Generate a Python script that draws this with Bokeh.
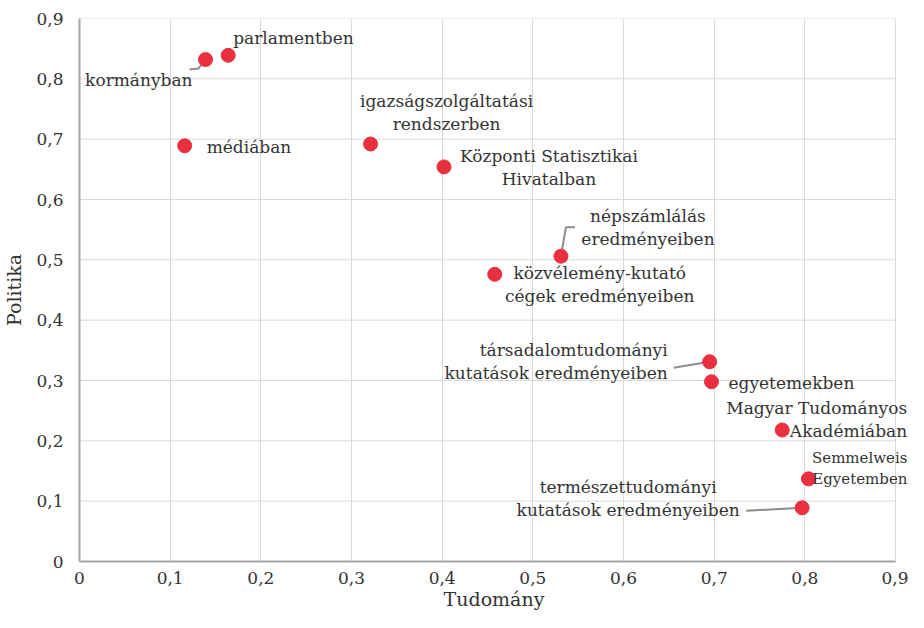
from bokeh.plotting import figure
from bokeh.models import Range1d, FixedTicker, CustomJSTickFormatter, Label, ColumnDataSource
from bokeh.embed import file_html
from bokeh.resources import INLINE

# ---- data ----
labels = [
    "parlamentben", "kormányban", "médiában",
    "igazságszolgáltatási\nrendszerben", "Központi Statisztikai\nHivatalban",
    "népszámlálás\neredményeiben", "közvélemény-kutató\ncégek eredményeiben",
    "társadalomtudományi\nkutatások eredményeiben", "egyetemekben",
    "Magyar Tudományos\nAkadémiában", "Semmelweis\nEgyetemben",
    "természettudományi\nkutatások eredményeiben",
]
tudomany = [0.164, 0.139, 0.116, 0.321, 0.402, 0.531, 0.458, 0.695, 0.697, 0.775, 0.804, 0.797]
politika = [0.839, 0.832, 0.689, 0.692, 0.654, 0.506, 0.476, 0.331, 0.298, 0.218, 0.137, 0.089]
tick_values = [0, 0.1, 0.2, 0.3, 0.4, 0.5, 0.6, 0.7, 0.8, 0.9]
tick_labels = ["0", "0,1", "0,2", "0,3", "0,4", "0,5", "0,6", "0,7", "0,8", "0,9"]
x_title = "Tudomány"
y_title = "Politika"

# ---- layout / style ----
FONT = "DejaVu Serif"
RED = "#e8303f"
TXT = "#333333"
W, H = 908, 612
BL, BR, BT, BB = 78, 0, 18, 48
AXIS_W = 817            # pixel width of the 0..0.9 span
frame_w = W - BL - BR
frame_h = H - BT - BB
X_MAX = tick_values[-1]
Y_MAX = tick_values[-1]

# label placement: (x_offset px, y_offset px (up), align, font size)
label_style = [
    (5, 17, "left", "17px"), (-13, -20, "right", "17px"), (22, -1, "left", "17px"),
    (76, 31, "center", "17px"), (105, -1, "center", "17px"),
    (87, 29, "center", "17px"), (105, -10, "center", "17px"),
    (-42, 0, "right", "17px"), (17, -1, "left", "17px"),
    (125, 10, "right", "17px"), (99, 10, "right", "15px"),
    (-174, 9, "center", "17px"),
]
# leader lines: index -> pixel offsets (x right, y up) from the point
leaders = {
    1: [(0, 0), (-7, -9), (-16, -10)],
    5: [(0, 0), (5, 29), (14, 29)],
    7: [(0, 0), (-36, -6)],
    11: [(0, 0), (-56, -3)],
}

sx = X_MAX / AXIS_W
sy = Y_MAX / frame_h
p = figure(width=W, height=H, output_backend="svg", toolbar_location=None,
           x_range=Range1d(0, frame_w * sx), y_range=Range1d(0, Y_MAX),
           min_border_left=BL, min_border_right=BR, min_border_top=BT, min_border_bottom=BB)
p.outline_line_color = None
p.background_fill_color = "white"

# horizontal grid lines limited to the 0..0.9 span
p.ygrid.grid_line_color = None
p.segment(x0=[0] * len(tick_values), y0=tick_values,
          x1=[X_MAX] * len(tick_values), y1=tick_values,
          line_color="#d9d9d9", line_width=1, level="underlay")
p.xgrid.grid_line_color = "#d9d9d9"

for i, pts in leaders.items():
    xs = [tudomany[i] + dx * sx for dx, dy in pts]
    ys = [politika[i] + dy * sy for dx, dy in pts]
    p.line(xs, ys, line_color="#8c8c8c", line_width=2)

src = ColumnDataSource(dict(x=tudomany, y=politika, name=labels))
p.scatter("x", "y", source=src, size=14, fill_color=RED, line_color=RED)

for i, txt in enumerate(labels):
    dx, dy, al, fs = label_style[i]
    p.add_layout(Label(x=tudomany[i], y=politika[i], x_offset=dx, y_offset=dy, text=txt,
                       text_align=al, text_baseline="middle", text_font=FONT,
                       text_font_size=fs, text_color=TXT, text_line_height=1.15))

fmt = CustomJSTickFormatter(args=dict(vals=tick_values, labs=tick_labels), code="""
let best = 0;
for (let i = 0; i < vals.length; i++) {
  if (Math.abs(vals[i] - tick) < Math.abs(vals[best] - tick)) best = i;
}
return labs[best];
""")
for ax in (p.xaxis, p.yaxis):
    ax.ticker = FixedTicker(ticks=tick_values)
    ax.formatter = fmt
    ax.major_tick_line_color = None
    ax.minor_tick_line_color = None
    ax.major_tick_out = 0
    ax.major_tick_in = 0
    ax.minor_tick_out = 0
    ax.axis_line_color = "#a6a6a6"
    ax.axis_line_width = 2
    ax.major_label_text_font = FONT
    ax.major_label_text_font_size = "17px"
    ax.major_label_text_color = TXT
    ax.axis_label_text_font = FONT
    ax.axis_label_text_font_size = "19px"
    ax.axis_label_text_font_style = "normal"
    ax.axis_label_text_color = TXT
p.xaxis.bounds = (0, X_MAX)
p.xaxis.axis_label = x_title
p.yaxis.axis_label = y_title
p.xaxis.major_label_standoff = 10
p.yaxis.major_label_standoff = 16
p.xaxis.axis_label_standoff = 1
p.yaxis.axis_label_standoff = 8

open("out.html", "w").write(file_html(p, INLINE))
